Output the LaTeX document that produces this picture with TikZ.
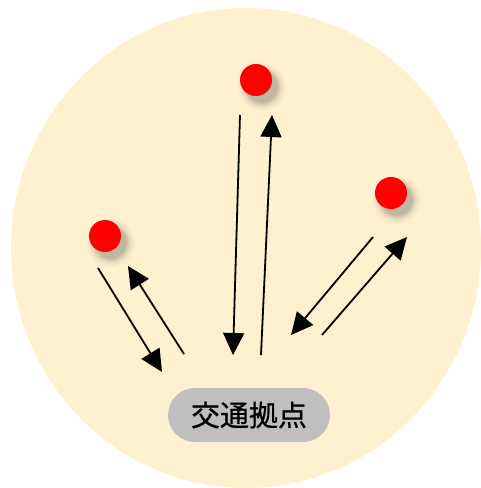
\documentclass[tikz,border=0pt]{standalone}
\usepackage{fontspec}
\newfontfamily\cjkfont[FakeBold=0.6]{Noto Sans CJK JP}
\usetikzlibrary{arrows.meta}
\definecolor{field}{HTML}{FFF1CF}
\definecolor{pill}{HTML}{BFBFBF}
\definecolor{dotred}{HTML}{FF0000}
\tikzset{
  spot/.style={circle, fill=dotred, minimum size=32pt, inner sep=0pt},
  flow/.style={line width=1.8pt, -{Triangle[length=22pt,width=21pt]}},
  hub/.style={rounded corners=27pt, fill=pill, minimum width=162pt, minimum height=54pt,
    inner sep=0pt, font=\cjkfont\fontsize{29}{32}\selectfont},
}
\newcommand{\softshadow}[2]{%
  \foreach \r/\o in {24/0.04,22/0.05,20/0.07,18.5/0.09,17/0.11,15.5/0.13}{
    \fill[black!60, opacity=\o] (#1+6,#2+7) circle (\r pt);
  }}
\begin{document}
\begin{tikzpicture}[x=1pt,y=-1pt]
\useasboundingbox (0,0) rectangle (481,488);
% service area
\fill[field] (246,248) ellipse [x radius=235, y radius=240];

% shadows under the spots
\softshadow{256}{80}
\softshadow{391}{193}
\softshadow{105}{236}

% spots
\node[spot] (top) at (256,80) {};
\node[spot] (right) at (391,193) {};
\node[spot] (left) at (105,236) {};

% hub
\node[hub] (hub) at (249,415) {交通拠点};

% arrow end points
\coordinate (l1a) at (98,268);
\coordinate (l1b) at (162,372);
\coordinate (l2a) at (184,354);
\coordinate (l2b) at (128,266);
\coordinate (m1a) at (240,115);
\coordinate (m1b) at (233,355);
\coordinate (m2a) at (261,355);
\coordinate (m2b) at (272,115);
\coordinate (r1a) at (373,237);
\coordinate (r1b) at (291,335);
\coordinate (r2a) at (322,335);
\coordinate (r2b) at (407,237);

\draw[flow] (l1a) -- (l1b);
\draw[flow] (l2a) -- (l2b);
\draw[flow] (m1a) -- (m1b);
\draw[flow] (m2a) -- (m2b);
\draw[flow] (r1a) -- (r1b);
\draw[flow] (r2a) -- (r2b);
\end{tikzpicture}
\end{document}
